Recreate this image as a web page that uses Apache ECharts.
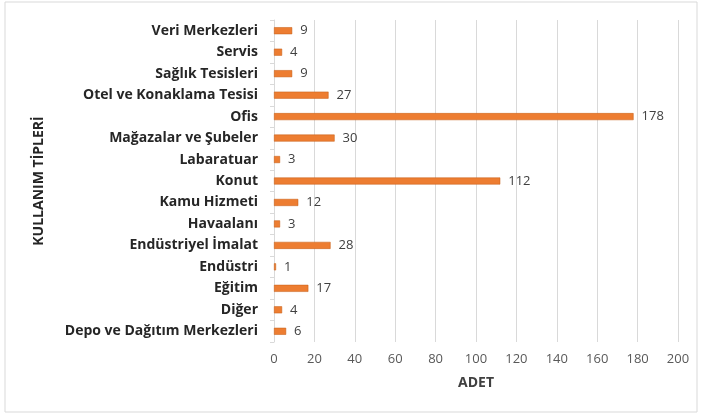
<!DOCTYPE html>
<html>
<head>
<meta charset="utf-8">
<script src="https://cdn.jsdelivr.net/npm/echarts@6/dist/echarts.min.js"></script>
<style>
  html, body { margin: 0; padding: 0; background: #fff; }
  #chart { width: 701px; height: 415px; }
</style>
</head>
<body>
<div id="chart"></div>
<script>
  // kategoriler (yukaridan asagiya)
  var categories = [
    'Veri Merkezleri',
    'Servis',
    'Sağlık Tesisleri',
    'Otel ve Konaklama Tesisi',
    'Ofis',
    'Mağazalar ve Şubeler',
    'Labaratuar',
    'Konut',
    'Kamu Hizmeti',
    'Havaalanı',
    'Endüstriyel İmalat',
    'Endüstri',
    'Eğitim',
    'Diğer',
    'Depo ve Dağıtım Merkezleri'
  ]
  var counts = [9, 4, 9, 27, 178, 30, 3, 112, 12, 3, 28, 1, 17, 4, 6]
  var xTicks = [0, 20, 40, 60, 80, 100, 120, 140, 160, 180, 200]

  var chart = echarts.init(document.getElementById('chart'))
  var fontFam = '"Open Sans", "Liberation Sans", sans-serif'

  var option = {
    animation: false,
    textStyle: { fontFamily: fontFam },
    graphic: [
      {
        type: 'rect',
        shape: { x: 5, y: 2, width: 692, height: 410 },
        style: { fill: 'none', stroke: '#d9d9d9', lineWidth: 1 },
        silent: true
      }
    ],
    grid: { left: 274, right: 23, top: 20, bottom: 73 },
    xAxis: {
      type: 'value',
      min: xTicks[0],
      max: xTicks[xTicks.length - 1],
      interval: 20,
      name: 'ADET',
      nameLocation: 'middle',
      nameGap: 34,
      nameTextStyle: { color: '#404040', fontWeight: 'bold', fontSize: 14 },
      axisLine: { show: false },
      axisTick: { show: false },
      axisLabel: { color: '#595959', fontSize: 13, margin: 11 },
      splitLine: { lineStyle: { color: '#d9d9d9', width: 1 } }
    },
    yAxis: {
      type: 'category',
      inverse: true,
      data: categories,
      name: 'KULLANIM TİPLERİ',
      nameLocation: 'middle',
      nameRotate: 90,
      nameGap: 228,
      nameTextStyle: { color: '#262626', fontWeight: 'bold', fontSize: 14 },
      axisLine: { show: true, lineStyle: { color: '#d9d9d9' } },
      axisTick: { show: true, length: 4, lineStyle: { color: '#d9d9d9' } },
      axisLabel: { color: '#262626', fontWeight: 'bold', fontSize: 14, margin: 16 }
    },
    series: [
      {
        type: 'bar',
        data: counts,
        barWidth: 7,
        itemStyle: { color: '#ED7D31', borderColor: '#c55a11', borderWidth: 0.5 },
        label: {
          show: true,
          position: 'right',
          distance: 8,
          color: '#404040',
          fontSize: 13
        }
      }
    ]
  }
  chart.setOption(option)
</script>
</body>
</html>
